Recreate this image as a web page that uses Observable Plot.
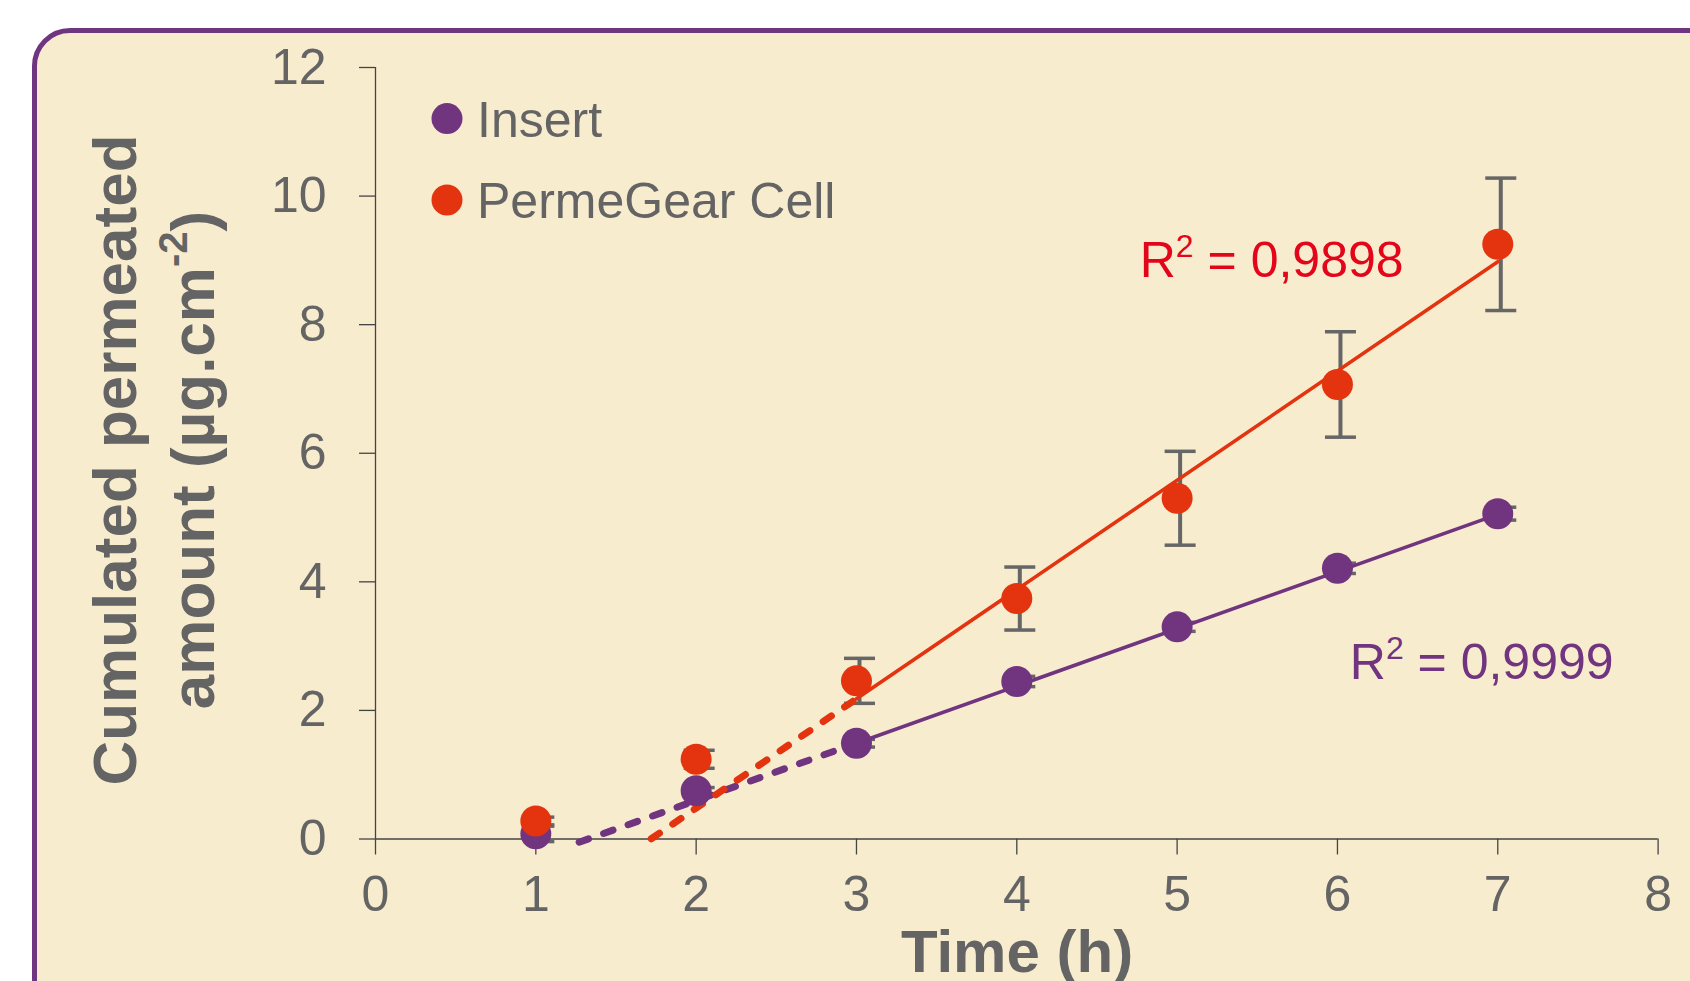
<!DOCTYPE html>
<html><head><meta charset="utf-8">
<script src="https://cdn.jsdelivr.net/npm/d3@7"></script>
<script src="https://cdn.jsdelivr.net/npm/@observablehq/plot@0.6"></script>
<style>
html,body{margin:0;padding:0;background:#fff;overflow:hidden;width:1690px;height:981px;}
#frame{position:absolute;left:32px;top:28px;width:1800px;height:1100px;border:5px solid #703580;border-radius:38px;background:#F8ECCF;}
#chart{position:absolute;left:0;top:0;}
</style></head><body>
<div id="frame"></div>
<div id="chart"></div>
<script>
// ---- data ----
const times = [1, 2, 3, 4, 5, 6, 7];
const insertMean = [0.08, 0.75, 1.49, 2.45, 3.30, 4.21, 5.06];
const insertErr  = [0.12, 0.05, 0.06, 0.08, 0.07, 0.08, 0.10];
const permeMean  = [0.28, 1.24, 2.46, 3.74, 5.30, 7.07, 9.25];
const permeErr   = [0.06, 0.14, 0.35, 0.49, 0.73, 0.82, 1.03];
const seriesNames = ["Insert", "PermeGear Cell"];
const seriesColors = ["#71347F", "#E3340F"];
const labelColors = ["#71347F", "#E3061B"];
const fitSlope = [0.89, 1.70];
const fitIntercept = [-1.18, -2.92];
const fitDashStart = [1.27, 1.72];
const fitSolidStart = [3, 3];
const fitEnd = [7, 7];
const r2Values = ["0,9999", "0,9898"];
const r2LabelX = [6.08, 4.77];
const r2LabelY = [2.48, 8.73];
const xTicks = [0, 1, 2, 3, 4, 5, 6, 7, 8];
const yTicks = [0, 2, 4, 6, 8, 10, 12];
const xTitle = "Time (h)";
const yTitle1 = "Cumulated permeated";
const yTitle2a = "amount (µg.cm";
const yTitle2sup = "-2";
const yTitle2b = ")";

// ---- tables ----
const means = [insertMean, permeMean];
const errs = [insertErr, permeErr];
const points = [];
seriesNames.forEach((s, i) => times.forEach((t, j) => points.push({series: s, time: t, value: means[i][j], err: errs[i][j]})));
const caps = points.flatMap(p => [{...p, cap: p.value + p.err}, {...p, cap: p.value - p.err}]);
const fitY = (i, x) => fitSlope[i] * x + fitIntercept[i];
const dashed = [], solid = [];
seriesNames.forEach((s, i) => {
  [fitDashStart[i], fitSolidStart[i]].forEach(x => dashed.push({series: s, x, y: fitY(i, x)}));
  [fitSolidStart[i], fitEnd[i]].forEach(x => solid.push({series: s, x, y: fitY(i, x)}));
});
const capSymbol = {draw(ctx, size) { const w = Math.sqrt(size / Math.PI); ctx.moveTo(-w, 0); ctx.lineTo(w, 0); }};

const gray = "#646464";
const font = "'Liberation Sans', Arial, sans-serif";
const chart = Plot.plot({
  width: 1690, height: 981,
  marginLeft: 375, marginRight: 32.4, marginTop: 67, marginBottom: 142.5,
  style: {background: "transparent", fontFamily: font, fontSize: "50px", color: gray, overflow: "visible"},
  x: {domain: [0, 8]},
  y: {domain: [0, 12]},
  color: {domain: seriesNames, range: seriesColors},
  marks: [
    Plot.axisY({ticks: yTicks, tickSize: 16, tickPadding: 33, stroke: "#444", strokeWidth: 1.3, fill: gray, label: null, fontSize: 50}),
    Plot.axisX({ticks: xTicks, tickSize: 16, tickPadding: 20, stroke: "#444", strokeWidth: 1.3, fill: gray, label: null, fontSize: 50}),
    Plot.ruleY([0], {stroke: "#444", strokeWidth: 1.3}),
    Plot.ruleX([0], {stroke: "#444", strokeWidth: 1.3}),
    Plot.ruleX(points, {x: "time", y1: d => d.value - d.err, y2: d => d.value + d.err, stroke: "#666", strokeWidth: 4, dx: 3}),
    Plot.dot(caps, {x: "time", y: "cap", r: 15.5, symbol: capSymbol, fill: "none", stroke: "#666", strokeWidth: 3.5, dx: 3}),
    Plot.line(dashed, {x: "x", y: "y", z: "series", stroke: "series", strokeWidth: 7, strokeDasharray: "10,16", strokeLinecap: "round"}),
    Plot.line(solid, {x: "x", y: "y", z: "series", stroke: "series", strokeWidth: 3.6}),
    Plot.dot(points, {x: "time", y: "value", r: 15.5, fill: "series", stroke: null})
  ]
});
document.getElementById("chart").appendChild(chart);

const svg = d3.select(chart);
const xs = chart.scale("x"), ys = chart.scale("y");

// R² labels
seriesNames.forEach((s, i) => {
  const t = svg.append("text")
    .attr("x", xs.apply(r2LabelX[i])).attr("y", ys.apply(r2LabelY[i]))
    .attr("text-anchor", "start")
    .attr("fill", labelColors[i]).attr("font-size", 50)
    .attr("font-family", font);
  t.append("tspan").text("R");
  t.append("tspan").attr("font-size", 32).attr("dy", -20).text("2");
  t.append("tspan").attr("dy", 20).text(" = " + r2Values[i]);
});

// legend
const lg = svg.append("g").attr("font-family", font).attr("font-size", 50).attr("fill", gray).attr("text-anchor", "start");
const legendY = [118.6, 200];
seriesNames.forEach((s, i) => {
  lg.append("circle").attr("cx", 447).attr("cy", legendY[i]).attr("r", 15.5).attr("fill", seriesColors[i]);
  lg.append("text").attr("x", 477).attr("y", legendY[i] + 18).text(s);
});

// axis titles
svg.append("text").attr("x", 1017).attr("y", 972).attr("text-anchor", "middle")
  .attr("font-family", font).attr("font-size", 60).attr("font-weight", "bold").attr("fill", gray).text(xTitle);
const yt = svg.append("g").attr("font-family", font).attr("font-size", 62).attr("font-weight", "bold").attr("fill", gray).attr("text-anchor", "middle");
yt.append("text").attr("transform", "translate(136,460) rotate(-90)").text(yTitle1);
const t2 = yt.append("text").attr("transform", "translate(214,460) rotate(-90)");
t2.append("tspan").text(yTitle2a);
t2.append("tspan").attr("font-size", 40).attr("dy", -27).text(yTitle2sup);
t2.append("tspan").attr("dy", 27).text(yTitle2b);
</script>
</body></html>
